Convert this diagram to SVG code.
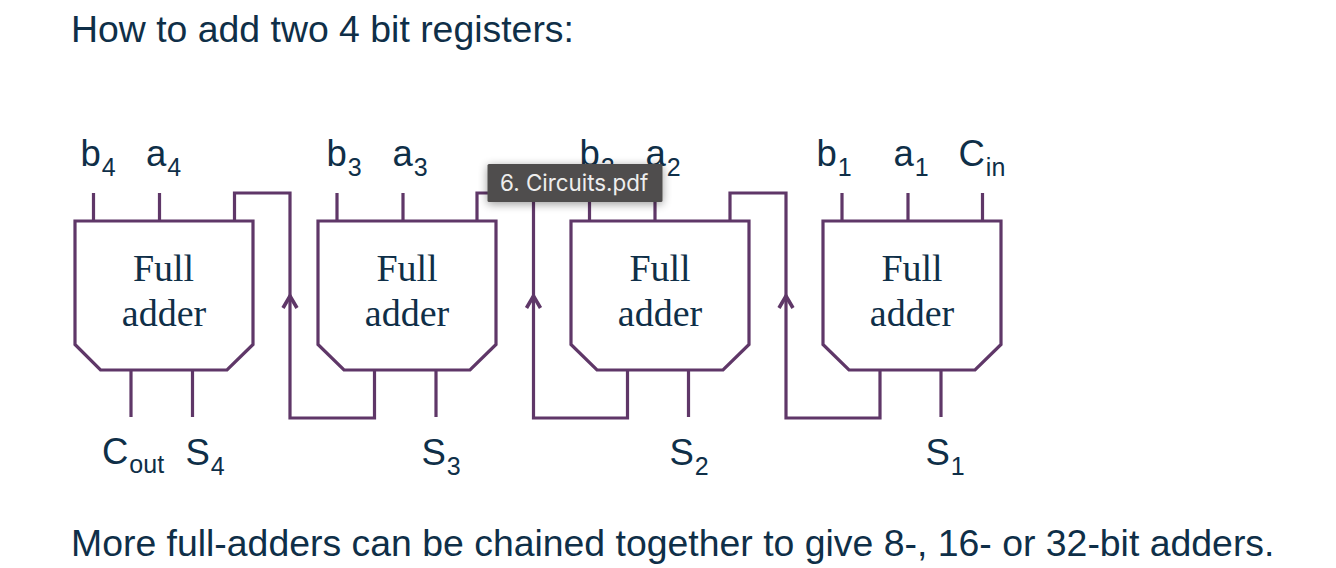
<svg xmlns="http://www.w3.org/2000/svg" width="1336" height="568" viewBox="0 0 1336 568">
<style>
text{font-family:"Liberation Sans",Arial,sans-serif;fill:#0f2f48}
.h{font-size:37.4px}
.l{font-size:36.5px}
.l tspan{font-size:25px}
.f{font-family:"Liberation Serif","Times New Roman",serif;font-size:38px;text-anchor:middle}
.s{fill:#fff;stroke:#5f3768;stroke-width:3.2;stroke-linejoin:miter}
.w{fill:none;stroke:#5f3768;stroke-width:3.2;stroke-linejoin:miter}
.t{font-family:Inter,"Liberation Sans",sans-serif;font-size:22.4px;fill:#eeeeee}
</style>
<defs>
<marker id="arr" markerUnits="userSpaceOnUse" markerWidth="20" markerHeight="20" refX="17" refY="10" orient="auto" viewBox="0 0 20 20"><path d="M5 3L17 10L5 17" fill="none" stroke="#5f3768" stroke-width="3.6"/></marker>
<filter id="sh" x="-15%" y="-40%" width="130%" height="190%"><feGaussianBlur in="SourceAlpha" stdDeviation="5"/><feOffset dy="2"/><feComponentTransfer><feFuncA type="linear" slope="0.4"/></feComponentTransfer><feMerge><feMergeNode/><feMergeNode in="SourceGraphic"/></feMerge></filter>
</defs>
<rect width="1336" height="568" fill="#fff"/>
<text id="title" class="h" x="71" y="42">How to add two 4 bit registers:</text>
<text id="caption" class="h" x="71" y="556">More full-adders can be chained together to give 8-, 16- or 32-bit adders.</text>

<g id="connectors">
<path class="w" d="M93.500 221V193M159.500 221V193M131 370V417M192.500 370V417"/>
<path class="w" d="M337 221V193M403 221V193M436 370V417"/>
<path class="w" d="M589.500 221V193M655 221V193M688.500 370V417"/>
<path class="w" d="M842 221V193M908 221V193M982.500 221V193M941 370V417"/>
<path class="w" d="M234.500 221V193H290V298"/>
<path class="w" d="M374.500 370V418H290V296" marker-end="url(#arr)"/>
<path class="w" d="M477 221V193H533.500V298"/>
<path class="w" d="M627.500 370V418H533.500V296" marker-end="url(#arr)"/>
<path class="w" d="M730 221V193H786V298"/>
<path class="w" d="M880 370V418H786V296" marker-end="url(#arr)"/>
</g>

<g id="adder4">
<path class="s" d="M75 221H253V344.500L227 370H100.500L75 344.500Z"/>
<text class="f" x="163.500" y="281">Full</text><text class="f" x="164" y="326">adder</text>
<text class="l" x="80.500" y="166">b<tspan dx="1" dy="10">4</tspan></text>
<text class="l" x="146" y="166">a<tspan dx="1" dy="10">4</tspan></text>
<text class="l" x="102" y="464">C<tspan dx="1" dy="9">out</tspan></text>
<text class="l" x="185.500" y="465">S<tspan dx="1" dy="10">4</tspan></text>
</g>
<g id="adder3">
<path class="s" d="M318 221H496V344.500L470 370H344L318 344.500Z"/>
<text class="f" x="407" y="281">Full</text><text class="f" x="407" y="326">adder</text>
<text class="l" x="326.500" y="166">b<tspan dx="1" dy="10">3</tspan></text>
<text class="l" x="392.500" y="166">a<tspan dx="1" dy="10">3</tspan></text>
<text class="l" x="421.500" y="465">S<tspan dx="1" dy="10">3</tspan></text>
</g>
<g id="adder2">
<path class="s" d="M571 221H749V344.500L723 370H597L571 344.500Z"/>
<text class="f" x="660" y="281">Full</text><text class="f" x="660" y="326">adder</text>
<text class="l" x="579.500" y="166">b<tspan dx="1" dy="10">2</tspan></text>
<text class="l" x="645.500" y="166">a<tspan dx="1" dy="10">2</tspan></text>
<text class="l" x="669.500" y="465">S<tspan dx="1" dy="10">2</tspan></text>
</g>
<g id="adder1">
<path class="s" d="M823 221H1001V344.500L975 370H849L823 344.500Z"/>
<text class="f" x="912" y="281">Full</text><text class="f" x="912" y="326">adder</text>
<text class="l" x="816.500" y="166">b<tspan dx="1" dy="10">1</tspan></text>
<text class="l" x="893.500" y="166">a<tspan dx="1" dy="10">1</tspan></text>
<text class="l" x="958.500" y="166">C<tspan dx="1" dy="10">in</tspan></text>
<text class="l" x="925.500" y="465">S<tspan dx="1" dy="10">1</tspan></text>
</g>

<g id="tooltip">
<rect x="487.500" y="164" width="175" height="38" rx="1.500" fill="#504e4d" filter="url(#sh)"/>
<text class="t" x="500" y="190.500">6. Circuits.pdf</text>
</g>
</svg>
